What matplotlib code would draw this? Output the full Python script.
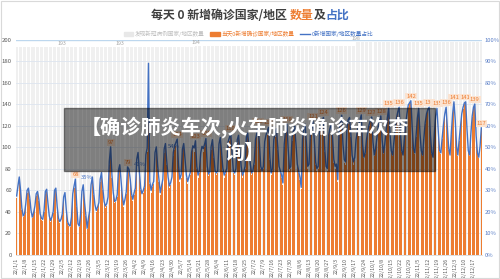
import matplotlib.pyplot as plt
from matplotlib.patches import Patch, Rectangle
from matplotlib.lines import Line2D

plt.rcParams['font.family'] = ['Noto Sans CJK SC', 'DejaVu Sans']

# weekly tick labels (yy/m/d)
week_labels = [
    '22/1/1', '22/1/8', '22/1/15', '22/1/22', '22/1/29',
    '22/2/5', '22/2/12', '22/2/19', '22/2/26',
    '22/3/5', '22/3/12', '22/3/19', '22/3/26',
    '22/4/2', '22/4/9', '22/4/16', '22/4/23', '22/4/30',
    '22/5/7', '22/5/14', '22/5/21', '22/5/28',
    '22/6/4', '22/6/11', '22/6/18', '22/6/25',
    '22/7/2', '22/7/9', '22/7/16', '22/7/23', '22/7/30',
    '22/8/6', '22/8/13', '22/8/20', '22/8/27',
    '22/9/3', '22/9/10', '22/9/17', '22/9/24',
    '22/10/1', '22/10/8', '22/10/15', '22/10/22', '22/10/29',
    '22/11/5', '22/11/12', '22/11/19', '22/11/26',
    '22/12/3', '22/12/10', '22/12/17',
]

# countries/regions with 0 new confirmed cases, one row per week
zero_new = [
    53, 62, 70, 58, 42, 35, 37,
    46, 58, 60, 52, 40, 34, 38,
    44, 55, 57, 50, 37, 33, 32,
    40, 57, 59, 46, 35, 31, 34,
    39, 58, 60, 44, 33, 30, 32,
    37, 52, 56, 41, 30, 27, 26,
    34, 55, 62, 68, 45, 28, 26,
    37, 57, 63, 47, 36, 24, 33,
    40, 63, 70, 56, 45, 40, 43,
    47, 68, 74, 60, 48, 44, 46,
    52, 84, 97, 72, 56, 48, 49,
    54, 76, 81, 66, 52, 45, 50,
    57, 79, 77, 68, 55, 50, 56,
    60, 86, 92, 75, 60, 55, 58,
    62, 90, 96, 172, 66, 58, 63,
    66, 92, 97, 80, 68, 56, 62,
    68, 95, 100, 84, 70, 62, 65,
    70, 92, 98, 101, 104, 80, 68,
    72, 95, 100, 86, 72, 66, 70,
    74, 92, 98, 96, 103, 80, 72,
    76, 92, 98, 96, 100, 105, 80,
    73, 75, 98, 104, 90, 76, 74,
    76, 100, 106, 92, 78, 72, 75,
    78, 102, 106, 110, 92, 76, 74,
    78, 104, 108, 94, 80, 72, 75,
    80, 106, 110, 96, 82, 74, 76,
    84, 104, 110, 116, 100, 80, 76,
    80, 102, 108, 112, 115, 88, 74,
    78, 104, 110, 114, 98, 80, 76,
    72, 65, 100, 112, 118, 96, 78,
    80, 106, 112, 116, 100, 82, 76,
    70, 61, 104, 114, 118, 100, 80,
    82, 108, 114, 121, 104, 84, 78,
    80, 110, 116, 120, 124, 96, 80,
    78, 108, 114, 118, 106, 86, 80,
    82, 68, 112, 120, 126, 100, 86,
    84, 114, 122, 124, 110, 90, 84,
    88, 106, 114, 120, 124, 129, 102,
    90, 94, 106, 114, 120, 124, 127,
    104, 92, 98, 108, 118, 124, 128,
    106, 94, 102, 114, 126, 135, 112,
    96, 92, 104, 116, 126, 132, 136,
    112, 96, 92, 106, 120, 130, 138,
    140, 142, 118, 98, 94, 110, 126,
    135, 112, 96, 92, 108, 122, 130,
    134, 136, 110, 94, 90, 112, 128,
    135, 114, 96, 94, 108, 120, 130,
    136, 116, 98, 92, 112, 130, 141,
    124, 100, 92, 106, 118, 130, 136,
    140, 141, 116, 96, 92, 112, 128,
    136, 139, 110, 94, 90, 100, 117,
]

# countries/regions with cases so far (step values and how many days each lasts)
total_levels = [193, 194, 198]
total_lengths = [137, 123, 97]

# which days carry data labels
count_label_days = [45, 72, 85, 123, 137, 145, 164, 185, 193, 207, 227, 235, 249,
                    264, 272, 279, 285, 293, 302, 308, 316, 322, 329, 335, 344, 351, 356]
pct_label_days = [45, 85]
pct_label_below = [123]
total_label_days = [35, 79, 137, 260]

ORANGE = '#ED7D31'
BLUE = '#4472C4'
GREY_BAR = '#F0F0F0'

totals = []
for lvl, n in zip(total_levels, total_lengths):
    totals += [lvl] * n
days = list(range(len(zero_new)))
pct = [100.0 * c / t for c, t in zip(zero_new, totals)]

fig = plt.figure(figsize=(5, 2.79), dpi=100)
ax = fig.add_axes([0.032, 0.086, 0.932, 0.771])

ax.bar(days, totals, width=0.75, color=GREY_BAR, zorder=1)
for v in range(20, 200, 20):
    ax.axhline(v, color='#DDE5EF', lw=0.6, zorder=1.5)
ax.axhline(200, color='#BDD7EE', lw=1.0, zorder=1.5)
ax.bar(days, zero_new, width=0.68, color=ORANGE, zorder=2)

ax.set_xlim(-0.5, len(days) - 0.5)
ax.set_ylim(0, 200)
ax.set_yticks(range(0, 201, 20))
ax.tick_params(axis='y', labelsize=4.3, labelcolor='#595959', length=0, pad=3)
ax.set_xticks(range(0, len(days), 7))
ax.set_xticklabels(week_labels, rotation=90, fontsize=3.8, color='#595959')
ax.tick_params(axis='x', length=0, pad=2)
for s in ax.spines.values():
    s.set_visible(False)
ax.spines['bottom'].set_visible(True)
ax.spines['bottom'].set_color('#D9D9D9')
ax.spines['bottom'].set_linewidth(0.6)

for d in total_label_days:
    ax.text(d, totals[d] + 1, str(totals[d]), ha='center', va='bottom',
            fontsize=3.8, color='#A6A6A6', zorder=5)

ax2 = ax.twinx()
ax2.plot(days, pct, color=BLUE, lw=1.0, zorder=3)
ax2.set_ylim(0, 100)
ax2.set_yticks(range(0, 101, 10))
ax2.set_yticklabels([f'{v}%' for v in range(0, 101, 10)])
ax2.tick_params(axis='y', labelsize=4.2, labelcolor='#5B7FC7', length=0, pad=2)
for s in ax2.spines.values():
    s.set_visible(False)

for d in count_label_days:
    ax2.text(d, pct[d] + 2.2, str(zero_new[d]), ha='center', va='center',
             fontsize=4.2, color=ORANGE, zorder=6,
             bbox=dict(boxstyle='square,pad=0.15', fc='#FBE3D1', ec='none'))
for d in pct_label_days:
    ax2.text(d + 9, pct[d] + 1.0, f'{pct[d]:.0f}%', ha='center', va='center',
             fontsize=4.2, color=BLUE, zorder=6)
for d in pct_label_below:
    ax2.text(d - 3, pct[d] - 3.5, f'{pct[d]:.0f}%', ha='center', va='center',
             fontsize=4.2, color=BLUE, zorder=6)

# legend
handles = [Patch(color='#E8E8E8'), Patch(color=ORANGE), Line2D([], [], color=BLUE, lw=1.0)]
names = ['发现新冠病例国家/地区数量', '当天0新增确诊国家/地区数量', '0新增国家/地区数量占比']
fig.legend(handles, names, loc='center', bbox_to_anchor=(0.497, 0.878), ncol=3,
           frameon=False, fontsize=4.1, handlelength=1.6, handleheight=0.7,
           columnspacing=1.0, handletextpad=0.4,
           labelcolor=['#BFBFBF', ORANGE, BLUE])

# title in several colours
pieces = [('每天 0 新增确诊国家/地区 ', '#404040'), ('数量', ORANGE), ('及', '#404040'), ('占比', BLUE)]
texts = [fig.text(0, 0.946, p, fontsize=8.6, fontweight='bold', color=c, va='center')
         for p, c in pieces]
renderer = fig.canvas.get_renderer()
widths = [t.get_window_extent(renderer).width / fig.bbox.width for t in texts]
x = 0.5 - sum(widths) / 2
for t, w in zip(texts, widths):
    t.set_x(x)
    x += w

# grey overlay banner with caption
fig.patches.append(Rectangle((64 / 500, 1 - 171 / 279), 371 / 500, 63 / 279,
                             transform=fig.transFigure, color='black', alpha=0.47,
                             zorder=10))
fig.text(0.489, 1 - 127 / 279, '【确诊肺炎车次,火车肺炎确诊车次查', ha='center', va='center',
         fontsize=14.5, fontweight='bold', color='white', zorder=11)
fig.text(0.489, 1 - 152 / 279, '询】', ha='center', va='center',
         fontsize=14.5, fontweight='bold', color='white', zorder=11)

fig.patches.append(Rectangle((0.001, 0.002), 0.997, 0.995, transform=fig.transFigure,
                             fill=False, ec='#D9D9D9', lw=0.8, zorder=12))

fig.savefig('out.png', dpi=100)
